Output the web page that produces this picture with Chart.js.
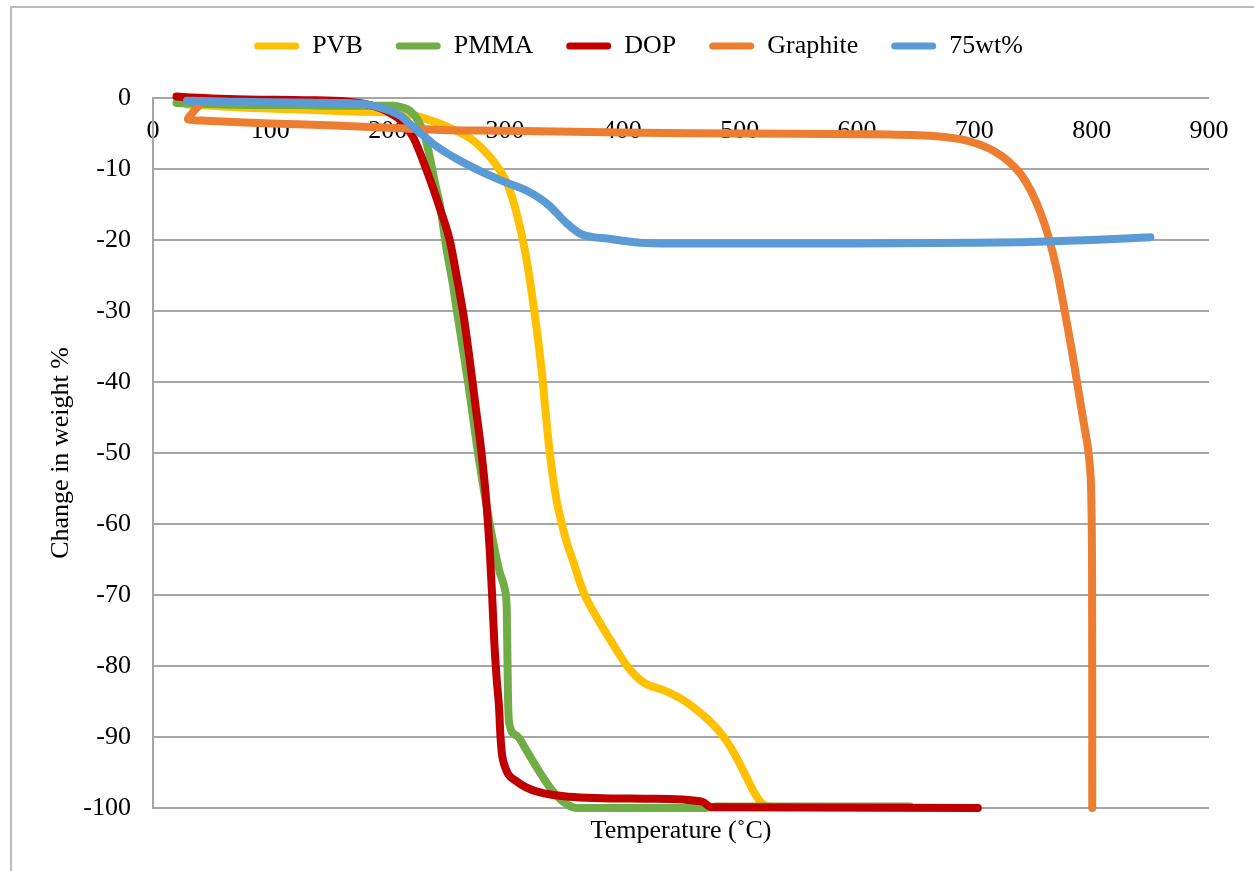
<!DOCTYPE html>
<html>
<head>
<meta charset="utf-8">
<script src="https://cdn.jsdelivr.net/npm/chart.js@4.4.1/dist/chart.umd.min.js"></script>
<style>
  html, body { margin: 0; padding: 0; background: #fff; overflow: hidden; }
  #wrap { position: relative; width: 1254px; height: 871px; }
  #frame { position: absolute; left: 10px; top: 6px; width: 1400px; height: 1000px;
           border-left: 2px solid #bcbcbc; border-top: 2px solid #bcbcbc; pointer-events: none; }
</style>
</head>
<body>
<div id="wrap">
  <canvas id="c" width="1254" height="871"></canvas>
  <div id="frame"></div>
</div>
<script>
// Thermogravimetric curves: weight change (%) against temperature (°C)
const seriesNames  = ['PVB', 'PMMA', 'DOP', 'Graphite', '75wt%'];
const seriesColors = ['#FFC000', '#70AD47', '#C00000', '#ED7D31', '#5B9BD5'];

const pvbTemp   = [29, 70, 120, 170, 200, 216, 230, 253, 273, 290, 302, 310, 317, 325, 331, 334.5, 337.5, 340.5, 344, 348.5, 353, 358, 363, 368, 378, 390, 405, 418, 435, 450, 462, 472, 481, 489, 496, 502, 508, 513, 518, 524, 545];
const pvbWeight = [-0.9, -1.3, -1.6, -1.9, -2.0, -2.2, -2.8, -4.2, -6.0, -8.9, -12.1, -16.3, -21.5, -30, -38, -44, -49, -53, -56.7, -60, -62.8, -65.2, -67.8, -70, -73.1, -76.4, -80.2, -82.3, -83.4, -84.6, -86.0, -87.4, -88.9, -90.6, -92.5, -94.4, -96.4, -98.0, -99.2, -99.8, -99.9];

const pmmaTemp   = [20, 60, 120, 170, 205, 212, 219, 226, 232, 236, 240, 245, 250, 255, 259, 268.5, 277, 287, 295, 300, 301.5, 302.5, 303.5, 310, 318, 326, 334, 341, 348, 354, 361, 470, 480, 645];
const pmmaWeight = [-0.7, -0.9, -1.0, -1.1, -1.1, -1.3, -1.8, -3.2, -5.6, -8.4, -11.7, -15.5, -21.1, -25.7, -30, -40, -50, -60, -66.5, -69.3, -72, -84, -88, -89.8, -91.8, -94, -96.1, -97.7, -98.9, -99.6, -100, -100, -99.8, -99.8];

const dopTemp   = [20, 28, 80, 130, 165, 185, 196, 204, 212, 222, 233, 245, 253, 259, 265, 270, 275, 280, 284, 287, 289, 291, 293, 295, 296, 297.5, 300, 303, 308.5, 318, 327.5, 354, 421, 468, 476, 703];
const dopWeight = [0.2, 0.1, -0.2, -0.3, -0.5, -1.0, -1.6, -2.3, -3.3, -5.6, -10.1, -15.8, -20.1, -25.3, -31, -37, -43.5, -50, -56.7, -63.7, -70, -77, -82, -86, -89.5, -92.5, -94.2, -95.3, -96.1, -97.1, -97.7, -98.4, -98.7, -99.1, -99.9, -100];

const graphiteTemp   = [40, 31, 30, 45, 100, 160, 245, 300, 415, 500, 600, 662, 688, 705, 718, 729, 739, 748, 756, 763, 770, 777, 783, 788, 793, 797, 799.3, 800.3, 800.5];
const graphiteWeight = [-0.9, -2.6, -3.0, -3.2, -3.6, -3.9, -4.5, -4.6, -4.9, -5.0, -5.1, -5.3, -5.8, -6.6, -7.6, -8.9, -10.6, -13, -16, -19.4, -24, -30, -35.5, -40.5, -45.5, -49.5, -54, -65, -100];

const blendTemp   = [29, 60, 100, 159, 185, 202, 212, 219, 229, 239, 259, 279, 298, 319, 336, 353, 364, 375, 387, 400, 415, 440, 500, 600, 700, 740, 800, 850];
const blendWeight = [-0.4, -0.5, -0.6, -0.7, -1.0, -1.8, -2.6, -3.7, -5.1, -6.5, -8.6, -10.3, -11.7, -13.1, -14.9, -17.7, -19.1, -19.6, -19.8, -20.1, -20.4, -20.5, -20.5, -20.5, -20.4, -20.3, -20.0, -19.6];

const xTickValues = [0, 100, 200, 300, 400, 500, 600, 700, 800, 900];
const yTickValues = [0, -10, -20, -30, -40, -50, -60, -70, -80, -90, -100];

const seriesTemps   = [pvbTemp, pmmaTemp, dopTemp, graphiteTemp, blendTemp];
const seriesWeights = [pvbWeight, pmmaWeight, dopWeight, graphiteWeight, blendWeight];

const pairUp = (xs, ys) => xs.map((x, i) => ({ x: x, y: ys[i] }));
// the graphite trace doubles back at its start, so it keeps plain bezier smoothing
const isMonotoneInX = xs => xs.every((x, i) => i === 0 || x >= xs[i - 1]);

const datasets = seriesNames.map((name, i) => ({
  label: name,
  data: pairUp(seriesTemps[i], seriesWeights[i]),
  borderColor: seriesColors[i],
  backgroundColor: seriesColors[i],
  borderWidth: 8,
  pointRadius: 0,
  tension: 0.3,
  cubicInterpolationMode: isMonotoneInX(seriesTemps[i]) ? 'monotone' : 'default',
  borderCapStyle: 'round',
  borderJoinStyle: 'round',
  fill: false,
  clip: 10,
  order: seriesNames.length - i,   // later series painted on top
  xAxisID: 'x',
  yAxisID: 'y'
}));

Chart.defaults.font.family = "'Liberation Serif', 'Times New Roman', serif";
Chart.defaults.font.size = 26;
Chart.defaults.color = '#000';

const gridGray = '#a6a6a6';
const hiddenAxis = {
  display: true,
  grid: { display: false },
  border: { display: false },
  ticks: { display: false }
};

new Chart(document.getElementById('c'), {
  type: 'line',
  data: { datasets: datasets },
  options: {
    responsive: false,
    animation: false,
    events: [],
    devicePixelRatio: 1,
    layout: { padding: { left: 23, right: 0, top: 0, bottom: 0 } },
    plugins: {
      tooltip: { enabled: false },
      legend: {
        position: 'top',
        align: 'center',
        labels: {
          font: { size: 26 },
          color: '#000',
          boxWidth: 45,
          boxHeight: 7,
          padding: 33,
          useBorderRadius: true,
          borderRadius: 3.5,
          sort: (a, b) => a.datasetIndex - b.datasetIndex,
          generateLabels: chart =>
            Chart.defaults.plugins.legend.labels.generateLabels(chart)
              .map(l => Object.assign({}, l, { lineWidth: 0, fillStyle: l.strokeStyle }))
        }
      }
    },
    scales: {
      x: {
        type: 'linear',
        position: { y: 0 },
        min: 0, max: 900,
        grid: { display: false },
        border: { display: false },
        ticks: { padding: 10, maxRotation: 0, autoSkip: false },
        afterBuildTicks: s => { s.ticks = xTickValues.map(v => ({ value: v })); }
      },
      xt: Object.assign({}, hiddenAxis, {
        type: 'linear', axis: 'x', position: 'bottom', min: 0, max: 900,
        title: { display: true, text: 'Temperature (˚C)', padding: { top: 24, bottom: 24 } },
        afterFit: s => { s.height = 63; }
      }),
      xpad: Object.assign({}, hiddenAxis, {
        type: 'linear', axis: 'x', position: 'top', min: 0, max: 900,
        afterFit: s => { s.height = 29; }
      }),
      y: {
        type: 'linear',
        position: 'left',
        min: -100, max: 0,
        grid: { color: gridGray, lineWidth: 2, drawTicks: false },
        border: { display: true, color: gridGray, width: 2 },
        ticks: { padding: 22 },
        afterBuildTicks: s => { s.ticks = yTickValues.map(v => ({ value: v })); },
        title: { display: true, text: 'Change in weight %', padding: { top: 23, bottom: 23 } },
        afterFit: s => { s.width = 130; }
      },
      yr: Object.assign({}, hiddenAxis, {
        type: 'linear', axis: 'y', position: 'right', min: 0, max: 1,
        afterFit: s => { s.width = 45; }
      })
    }
  }
});
</script>
</body>
</html>
